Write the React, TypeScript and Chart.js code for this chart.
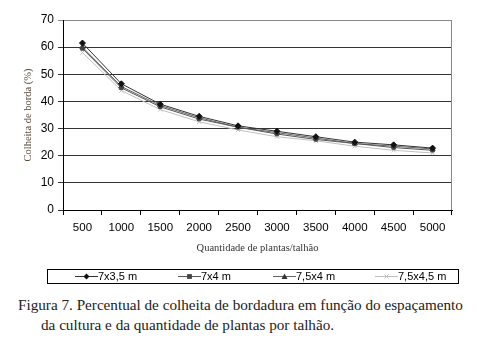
import React, { useEffect, useRef } from "react";
import { Chart, registerables } from "chart.js";

Chart.register(...registerables);

const categories = ["500", "1000", "1500", "2000", "2500", "3000", "3500", "4000", "4500", "5000"];
const s7x35 = [61.5, 46.5, 39, 34.5, 31, 29, 27, 25, 24, 22.8];
const s7x4 = [59.5, 45, 38, 33.5, 30.5, 28, 26, 24.5, 23, 22];
const s75x4 = [60, 45.5, 38.5, 34, 30.5, 28.5, 26.5, 24.5, 23.5, 22.5];
const s75x45 = [58, 44, 37, 32.5, 29.5, 27, 25.5, 23.5, 22, 21];
const seriesNames = ["7x3,5 m", "7x4 m", "7,5x4 m", "7,5x4,5 m"];

const lineColors = ["#333", "#555", "#666", "#c0c0c0"];
const pointColors = ["#111", "#444", "#333", "#c0c0c0"];
const pointStyles = ["rectRot", "rect", "triangle", "crossRot"];
const pointRadii = [3, 2.4, 3, 3];

function drawMarker(ctx: CanvasRenderingContext2D, style: string, x: number, y: number, r: number, color: string) {
  ctx.save();
  ctx.fillStyle = color;
  ctx.strokeStyle = color;
  ctx.lineWidth = 1;
  ctx.beginPath();
  if (style === "rectRot") {
    ctx.moveTo(x, y - r);
    ctx.lineTo(x + r, y);
    ctx.lineTo(x, y + r);
    ctx.lineTo(x - r, y);
    ctx.closePath();
    ctx.fill();
  } else if (style === "rect") {
    ctx.rect(x - r, y - r, 2 * r, 2 * r);
    ctx.fill();
  } else if (style === "triangle") {
    ctx.moveTo(x, y - r);
    ctx.lineTo(x + r, y + r * 0.8);
    ctx.lineTo(x - r, y + r * 0.8);
    ctx.closePath();
    ctx.fill();
  } else {
    ctx.moveTo(x - r * 0.7, y - r * 0.7);
    ctx.lineTo(x + r * 0.7, y + r * 0.7);
    ctx.moveTo(x + r * 0.7, y - r * 0.7);
    ctx.lineTo(x - r * 0.7, y + r * 0.7);
    ctx.stroke();
  }
  ctx.restore();
}

const legendPlugin = {
  id: "boxLegend",
  afterDraw(chart: any) {
    const ctx = chart.ctx;
    ctx.save();
    ctx.strokeStyle = "#000";
    ctx.lineWidth = 1;
    ctx.strokeRect(47.5, 269.5, 411, 14);
    const xs = [75, 178, 273, 375];
    const y = 276.5;
    ctx.font = "11px 'Liberation Sans', Arial, sans-serif";
    ctx.textBaseline = "middle";
    ctx.textAlign = "left";
    for (let i = 0; i < 4; i++) {
      const x0 = xs[i];
      ctx.strokeStyle = lineColors[i];
      ctx.lineWidth = 1;
      ctx.beginPath();
      ctx.moveTo(x0, y);
      ctx.lineTo(x0 + 23, y);
      ctx.stroke();
      drawMarker(ctx, pointStyles[i], x0 + 11.5, y, pointRadii[i], pointColors[i]);
      ctx.fillStyle = "#000";
      ctx.fillText(seriesNames[i], x0 + 23, y);
    }
    const a = chart.chartArea;
    ctx.strokeStyle = "#888";
    ctx.beginPath();
    ctx.moveTo(Math.round(a.right) - 0.5, a.top);
    ctx.lineTo(Math.round(a.right) - 0.5, a.bottom);
    ctx.stroke();
    ctx.restore();
  },
};

export default function App() {
  const ref = useRef<HTMLCanvasElement>(null);
  useEffect(() => {
    if (!ref.current) return;
    const data = [s7x35, s7x4, s75x4, s75x45];
    const chart = new Chart(ref.current, {
      type: "line",
      data: {
        labels: categories,
        datasets: data.map((d, i) => ({
          label: seriesNames[i],
          data: d,
          borderColor: lineColors[i],
          borderWidth: 1,
          backgroundColor: pointColors[i],
          pointBackgroundColor: pointColors[i],
          pointBorderColor: pointColors[i],
          pointBorderWidth: 1,
          pointStyle: pointStyles[i] as any,
          pointRadius: pointRadii[i],
          tension: 0,
        })),
      },
      options: {
        animation: false,
        responsive: false,
        maintainAspectRatio: false,
        layout: { padding: { left: 0, right: 25, top: 20, bottom: 35 } },
        plugins: { legend: { display: false }, tooltip: { enabled: false } },
        scales: {
          x: {
            type: "category",
            offset: true,
            grid: {
              display: true,
              offset: true,
              drawOnChartArea: false,
              drawTicks: true,
              tickLength: 5,
              color: "#000",
            },
            border: { display: true, color: "#000", width: 1 },
            ticks: {
              color: "#000",
              font: { family: "'Liberation Sans', Arial, sans-serif", size: 11.5 },
              padding: 6,
              maxRotation: 0,
            },
            title: {
              display: true,
              text: "Quantidade de plantas/talhão",
              color: "#333",
              font: { family: "'Liberation Serif', 'Times New Roman', serif", size: 10.5 },
              padding: { top: 2, bottom: 0 },
            },
            afterFit(scale: any) {
              scale.height = 45;
            },
          },
          y: {
            min: 0,
            max: 70,
            ticks: {
              stepSize: 10,
              color: "#000",
              font: { family: "'Liberation Sans', Arial, sans-serif", size: 12 },
              padding: 4,
            },
            grid: {
              color: (c: any) => (c.tick && c.tick.value === 70 ? "#888" : "#333"),
              drawTicks: true,
              tickLength: 5,
              lineWidth: 1,
            },
            border: { display: true, color: "#000", width: 1 },
            title: {
              display: true,
              text: "Colheita de borda (%)",
              color: "#5a4a3a",
              font: { family: "'Liberation Serif', 'Times New Roman', serif", size: 10.5 },
              padding: { top: 22, bottom: 2 },
            },
            afterFit(scale: any) {
              scale.width = 63;
            },
          },
        },
      },
      plugins: [legendPlugin],
    });
    return () => chart.destroy();
  }, []);

  return (
    <div style={{ position: "absolute", left: 0, top: 0, width: 477, height: 343, background: "#fff" }}>
      <canvas ref={ref} width={477} height={290} style={{ display: "block", width: 477, height: 290 }} />
      <div
        style={{
          position: "absolute",
          left: 18,
          top: 295,
          fontFamily: "'Liberation Serif', 'Times New Roman', serif",
          fontSize: 15.2,
          color: "#222",
          lineHeight: "20px",
          whiteSpace: "nowrap",
        }}
      >
        <div>Figura 7. Percentual de colheita de bordadura em função do espaçamento</div>
        <div style={{ paddingLeft: 23 }}>da cultura e da quantidade de plantas por talhão.</div>
      </div>
    </div>
  );
}
